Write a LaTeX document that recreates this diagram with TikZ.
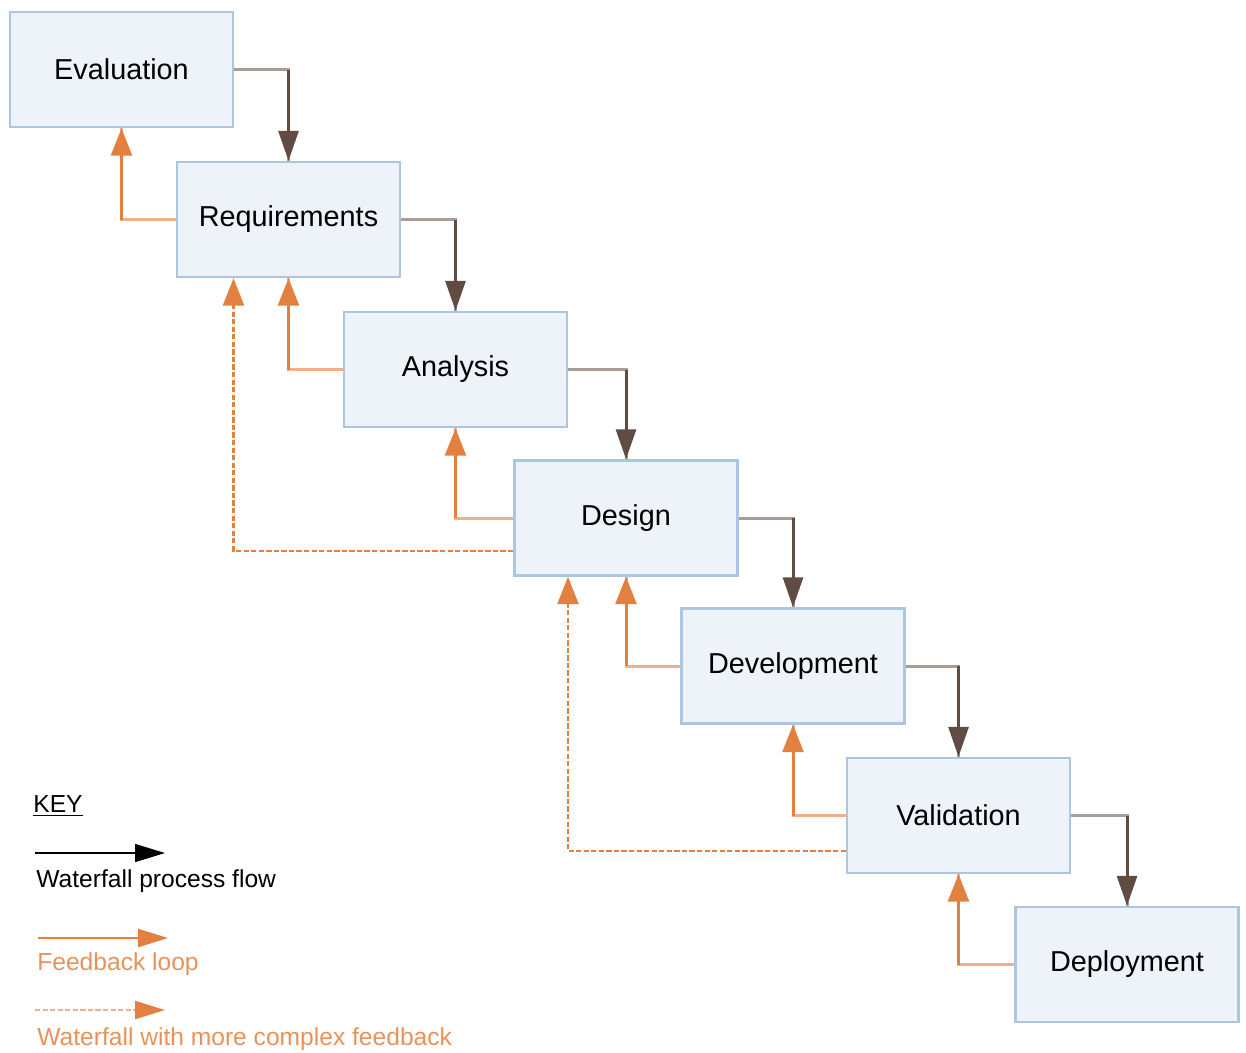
\documentclass[tikz,border=0pt]{standalone}
\usepackage{fontspec}
\setmainfont{Liberation Sans}
\usepackage{tikz}
\usetikzlibrary{arrows.meta,positioning,calc}
\definecolor{stagefill}{RGB}{238,243,250}
\definecolor{stageline}{RGB}{172,198,226}
\definecolor{flowbrown}{RGB}{96,76,66}
\definecolor{flowgrey}{RGB}{170,156,150}
\definecolor{fborange}{RGB}{226,128,64}
\definecolor{fblight}{RGB}{242,176,138}
\definecolor{keyorange}{RGB}{232,146,90}

\begin{document}
\begin{tikzpicture}[
  x=0.02cm, y=-0.02cm,
  stage/.style={rectangle,draw=stageline,fill=stagefill,line width=1.4pt,minimum width=4.46cm,minimum height=2.3cm,font=\fontsize{16.4}{19}\selectfont},
  flowh/.style={draw=flowgrey,line width=1.7pt},
  flow/.style={draw=flowbrown,line width=1.7pt,-{Triangle[length=0.6cm,width=0.4cm]}},
  fbh/.style={draw=fblight,line width=1.7pt},
  fb/.style={draw=fborange,line width=1.7pt,-{Triangle[length=0.55cm,width=0.42cm]}},
  fbdot/.style={draw=fborange,line width=1.4pt,dash pattern=on 3pt off 1.3pt,-{Triangle[length=0.55cm,width=0.42cm]}},
  keytxt/.style={anchor=west,inner sep=0pt,font=\fontsize{14}{16}\selectfont}
]
\useasboundingbox (0,0) rectangle (1246,1052);

% stages
\node[stage] (eval) at (121.5,69.5) {Evaluation};
\node[stage] (req) at (288.5,219.5) {Requirements};
\node[stage] (ana) at (455.5,369.5) {Analysis};
\node[stage] (des) at (626,518) {Design};
\node[stage] (dev) at (793,666) {Development};
\node[stage] (val) at (958.5,815.5) {Validation};
\node[stage] (dep) at (1127,964.5) {Deployment};

% waterfall flow
\foreach \a/\b in {eval/req,req/ana,ana/des,des/dev,dev/val,val/dep}{
  \draw[flowh] (\a.east) -| (\b.north);
  \draw[flow] (\a.east -| \b.north) -- (\b.north);
}

% feedback loops
\foreach \a/\b in {req/eval,ana/req,des/ana,dev/des,val/dev,dep/val}{
  \draw[fbh] (\a.west) -| (\b.south);
  \draw[fb] (\a.west -| \b.south) -- (\b.south);
}

% complex feedback
\coordinate (dsout) at ($(des.south west)+(0,-26)$);
\coordinate (rqin) at ($(req.south)+(-55,0)$);
\draw[fbdot] (dsout) -| (rqin);
\coordinate (vlout) at ($(val.south west)+(0,-23)$);
\coordinate (dsin) at ($(des.south)+(-58,0)$);
\draw[fbdot] (vlout) -| (dsin);

% key
\node[keytxt] (key) at (33,806) {\underline{KEY}};
\coordinate (k1a) at (35,853);
\coordinate (k1b) at (165,853);
\draw[line width=0.8pt,-{Triangle[length=0.6cm,width=0.36cm]}] (k1a) -- (k1b);
\node[keytxt] (k1t) at (36,881) {Waterfall process flow};
\coordinate (k2a) at (38,938);
\coordinate (k2b) at (168,938);
\draw[draw=fborange,line width=1.4pt,-{Triangle[length=0.6cm,width=0.36cm]}] (k2a) -- (k2b);
\node[keytxt,text=keyorange] (k2t) at (37,964) {Feedback loop};
\coordinate (k3a) at (35,1010);
\coordinate (k3b) at (165,1010);
\draw[draw=fblight,line width=1.4pt,dash pattern=on 3pt off 1.3pt,-{Triangle[length=0.6cm,width=0.36cm,color=fborange]}] (k3a) -- (k3b);
\node[keytxt,text=keyorange] (k3t) at (37,1039) {Waterfall with more complex feedback};
\end{tikzpicture}
\end{document}
